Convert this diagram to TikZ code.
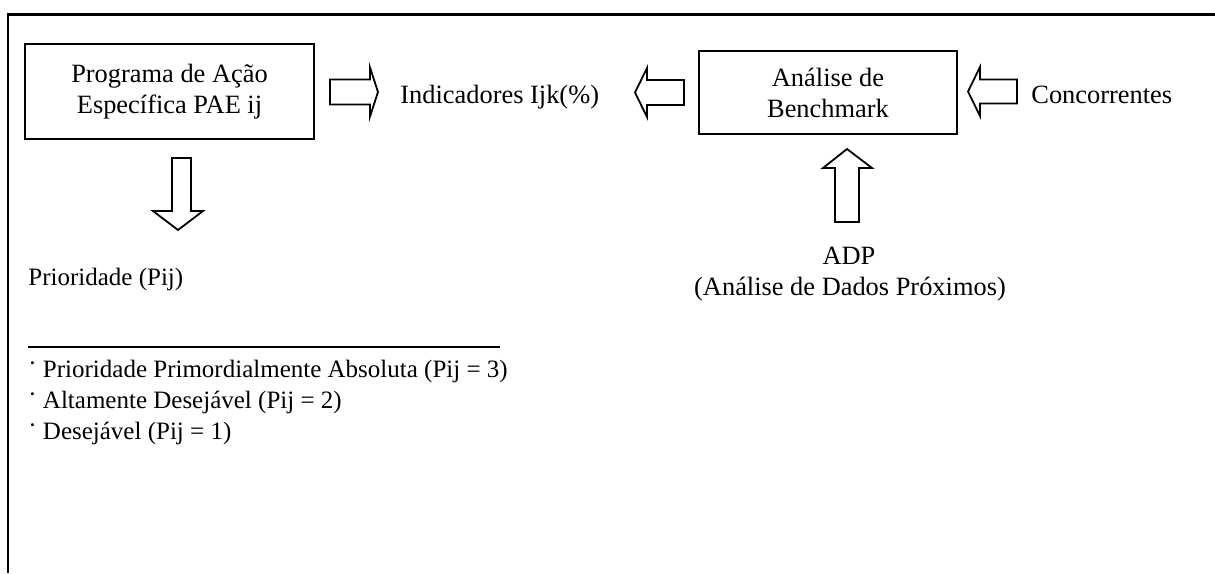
\documentclass[tikz,border=0pt]{standalone}
\usepackage{fontspec}
\setmainfont{Liberation Serif}
\begin{document}
\begin{tikzpicture}[x=0.5pt,y=-0.5pt,
  every node/.style={font=\fontsize{13.2}{15.5}\selectfont, inner sep=0pt},
  listfont/.style={font=\fontsize{12.5}{15}\selectfont},
  frameline/.style={line width=1.1pt},
  stagebox/.style={draw, line width=1pt, align=center},
  blockarrow/.style={draw, line width=0.9pt, line join=miter},
  txt/.style={anchor=base west},
  ctxt/.style={anchor=base},
  rule/.style={line width=0.6pt}]
\useasboundingbox (0,0) rectangle (1215,573);

% open frame: top and left edges only
\draw[frameline] (8,573) -- (8,14.5) -- (1215,14.5);

% boxes
\node[stagebox, minimum width=144.5pt, minimum height=47.5pt] (pae) at (169.5,91.5)
  {Programa de Ação\\Específica PAE ij};
\node[stagebox, minimum width=129pt, minimum height=41.5pt] (bench) at (828,92.5)
  {Análise de\\Benchmark};

% free labels
\node[txt] (ind) at (400,103) {Indicadores Ijk(\%)};
\node[txt] (conc) at (1031,103) {Concorrentes};
\node[ctxt] (adp) at (849,264) {ADP};
\node[ctxt] (adpfull) at (850,295) {(Análise de Dados Próximos)};
\node[txt, listfont] (prio) at (28,285) {Prioridade (Pij)};

% block arrows
\draw[blockarrow] (330,79.5) -- (370,79.5) -- (370,67.5) -- (378,92)
  -- (370,116.5) -- (370,104.5) -- (330,104.5) -- cycle;
\draw[blockarrow] (684,80) -- (647,80) -- (647,68) -- (635,92.5)
  -- (647,117) -- (647,105) -- (684,105) -- cycle;
\draw[blockarrow] (1017,79.5) -- (980,79.5) -- (980,67) -- (968,91.5)
  -- (980,116) -- (980,103.5) -- (1017,103.5) -- cycle;
\draw[blockarrow] (835,222) -- (835,168) -- (823,168) -- (847,149)
  -- (872,168) -- (859,168) -- (859,222) -- cycle;
\draw[blockarrow] (172,158) -- (172,211) -- (153,211) -- (178,230)
  -- (203,211) -- (191,211) -- (191,158) -- cycle;

% separator rule and priority list
\coordinate (ruleL) at (28,347);
\coordinate (ruleR) at (500,347);
\draw[rule] (ruleL) -- (ruleR);
\node[txt, listfont] (p3) at (28,377) {\raisebox{0.22em}{·} Prioridade Primordialmente Absoluta (Pij = 3)};
\node[txt, listfont] (p2) at (28,408) {\raisebox{0.22em}{·} Altamente Desejável (Pij = 2)};
\node[txt, listfont] (p1) at (28,439) {\raisebox{0.22em}{·} Desejável (Pij = 1)};
\end{tikzpicture}
\end{document}
